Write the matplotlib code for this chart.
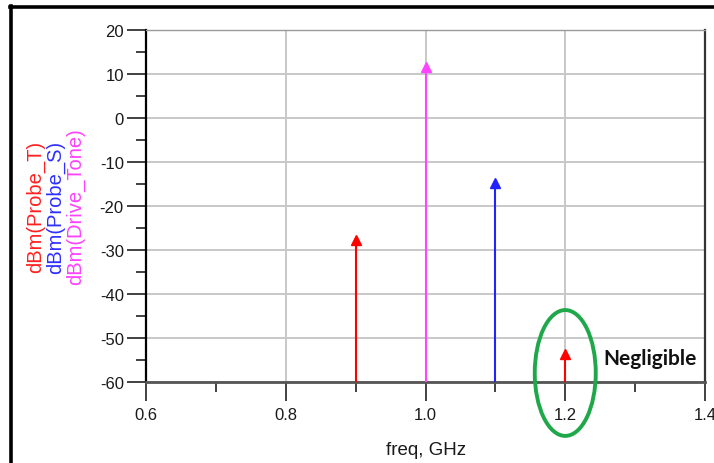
import matplotlib
matplotlib.use("Agg")
import matplotlib.pyplot as plt
from matplotlib.patches import Ellipse
from matplotlib.lines import Line2D
from matplotlib.ticker import MultipleLocator

plt.rcParams['font.family'] = ['Liberation Sans', 'DejaVu Sans']
plt.rcParams['axes.unicode_minus'] = False

# data
freqs = [0.9, 1.0, 1.1, 1.2]
levels = [-27.8, 11.7, -14.8, -53.6]
colors = ['#ff0000', '#ff44ff', '#2222ff', '#ff0000']
ylabels = ['dBm(Probe_T)', 'dBm(Probe_S)', 'dBm(Drive_Tone)']
ylabel_colors = ['#ff2020', '#3030ff', '#ff40ff']
xticks = [0.6, 0.8, 1.0, 1.2, 1.4]
xticklabels = ['0.6', '0.8', '1.0', '1.2', '1.4']
yticks = [20, 10, 0, -10, -20, -30, -40, -50, -60]

W, H = 714, 464
fig = plt.figure(figsize=(W / 100, H / 100), dpi=100)
L, R, T, B = 146, 705, 31, 383
ax = fig.add_axes([L / W, (H - B) / H, (R - L) / W, (B - T) / H])

ymin, ymax = -60, 20
ax.set_xlim(0.6, 1.4)
ax.set_ylim(ymin, ymax)

ax.set_xticks(xticks)
ax.set_xticklabels(xticklabels)
ax.set_yticks(yticks)
ax.xaxis.set_minor_locator(MultipleLocator(0.1))
ax.yaxis.set_minor_locator(MultipleLocator(5))
ax.tick_params(axis='both', which='major', direction='out', length=14, width=1.3,
               color='#333333', labelsize=12, labelcolor='#1a1a1a')
ax.tick_params(axis='both', which='minor', direction='out', length=7, width=1.3,
               color='#333333')
ax.tick_params(axis='y', pad=2)
ax.tick_params(axis='x', pad=4)

ax.grid(True, which='major', color='#c8c8c8', linewidth=1.4)
ax.set_axisbelow(True)

ax.spines['left'].set_color('#000000')
ax.spines['left'].set_linewidth(1.6)
ax.spines['bottom'].set_color('#555555')
ax.spines['bottom'].set_linewidth(2)
ax.spines['top'].set_color('#999999')
ax.spines['top'].set_linewidth(1)
ax.spines['right'].set_color('#333333')
ax.spines['right'].set_linewidth(1.6)

for f, v, c in zip(freqs, levels, colors):
    ax.vlines(f, ymin, v, color=c, linewidth=1.5, zorder=3)
    ax.plot([f], [v], marker='^', markersize=7.5, color=c, zorder=4,
            clip_on=False)

ax.set_xlabel('freq, GHz', fontsize=13.5, color='#1a1a1a', labelpad=14)

xpos = [35, 56, 76]
for t, c, xp in zip(ylabels, ylabel_colors, xpos):
    fig.text(xp / W, (H - 207) / H, t, rotation=90, color=c, fontsize=14.5,
             ha='center', va='center')

# annotation
ax.add_patch(Ellipse((1.2, -57.95), 0.0873, 28.6, fill=False,
                     edgecolor='#1fa84a', linewidth=2.8, clip_on=False, zorder=5))
ax.text(1.254, -54.5, 'Negligible', fontsize=15, fontweight='bold',
        family=['Lato', 'DejaVu Sans'], color='#111111', ha='left', va='center')

# figure border (left and top)
fig.add_artist(Line2D([11.5 / W, 11.5 / W], [0, (H - 7) / H], color='black',
                      linewidth=2.6, transform=fig.transFigure))
fig.add_artist(Line2D([10 / W, 1.0], [(H - 8) / H, (H - 8) / H], color='black',
                      linewidth=2.6, transform=fig.transFigure))

fig.savefig('out.png', dpi=100)
